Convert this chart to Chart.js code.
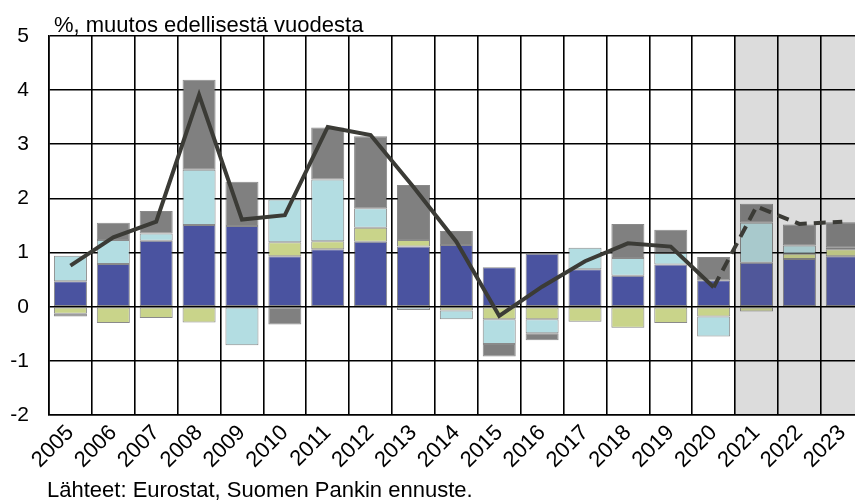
<!DOCTYPE html>
<html>
<head>
<meta charset="utf-8">
<script src="https://cdn.jsdelivr.net/npm/chart.js@4"></script>
<style>
  html, body { margin: 0; padding: 0; background: #fff; overflow: hidden; }
  #wrap { position: relative; width: 866px; height: 500px; }
</style>
</head>
<body>
<div id="wrap"><canvas id="growth"></canvas></div>
<script>
// Data
const years = ['2005', '2006', '2007', '2008', '2009', '2010', '2011', '2012', '2013', '2014',
    '2015', '2016', '2017', '2018', '2019', '2020', '2021', '2022', '2023']
const darkBlue = [0.47, 0.79, 1.22, 1.51, 1.49, 0.93, 1.06, 1.20, 1.11, 1.14,
    0.73, 0.98, 0.69, 0.57, 0.78, 0.49, 0.81, 0.88, 0.93]
const yellowGreen = [-0.13, -0.30, -0.21, -0.29, 0, 0.26, 0.15, 0.26, 0.12, -0.07,
    -0.23, -0.23, -0.28, -0.39, -0.30, -0.18, -0.09, 0.10, 0.13]
const lightBlue = [0.47, 0.44, 0.13, 1.02, -0.71, 0.79, 1.14, 0.36, -0.06, -0.16,
    -0.46, -0.26, 0.40, 0.33, 0.21, -0.37, 0.74, 0.15, 0.04]
const grey = [-0.05, 0.32, 0.42, 1.66, 0.82, -0.33, 0.96, 1.33, 1.02, 0.26,
    -0.23, -0.13, 0, 0.63, 0.43, 0.43, 0.35, 0.39, 0.46]
const total = [0.76, 1.28, 1.57, 3.91, 1.61, 1.69, 3.32, 3.17, 2.21, 1.20,
    -0.17, 0.37, 0.84, 1.17, 1.11, 0.36, 1.85, 1.53, 1.57]
const yTicks = [-2, -1, 0, 1, 2, 3, 4, 5]
const forecastFrom = 16 // 2021 ->

const FONT = '"Liberation Sans", Arial, sans-serif'

// forecast bars look a bit greyed out
const colorSet = (normal, faded) => years.map((y, i) => i >= forecastFrom ? faded : normal)

const barDataset = (label, data, normal, faded) => ({
    type: 'bar',
    label: label,
    data: data,
    backgroundColor: colorSet(normal, faded),
    borderColor: 'rgba(60, 60, 60, 0.6)',
    borderWidth: 1,
    borderSkipped: false,
    stack: 'parts',
    barPercentage: 0.77,
    categoryPercentage: 1,
    order: 2
})

const forecastShade = {
    id: 'forecastShade',
    beforeDraw(chart) {
        const { ctx, chartArea, scales } = chart
        const x0 = scales.x.getPixelForValue(forecastFrom) - scales.x.width / years.length / 2
        ctx.save()
        ctx.fillStyle = '#dcdcdc'
        ctx.fillRect(x0, chartArea.top, chartArea.right - x0, chartArea.bottom - chartArea.top)
        ctx.restore()
    }
}

const texts = {
    id: 'texts',
    afterDraw(chart) {
        const ctx = chart.ctx
        ctx.save()
        ctx.fillStyle = '#000'
        ctx.font = '22px ' + FONT
        ctx.textBaseline = 'alphabetic'
        ctx.fillText('%, muutos edellisestä vuodesta', 54, 32)
        ctx.fillText('Lähteet: Eurostat, Suomen Pankin ennuste.', 47, 497)
        ctx.restore()
    }
}

let canvas = document.querySelector('canvas#growth')
let growthChart = new Chart(canvas, {
    data: {
        labels: years,
        datasets: [
            barDataset('blue', darkBlue, '#4a53a0', '#50579a'),
            barDataset('green', yellowGreen, '#c9d48a', '#bcc484'),
            barDataset('lightblue', lightBlue, '#b3dde2', '#a8c9cc'),
            barDataset('grey', grey, '#808080', '#7a7a7a'),
            {
                type: 'line',
                label: 'total',
                data: total,
                borderColor: '#3b3b36',
                borderWidth: 4,
                pointRadius: 0,
                tension: 0,
                order: 1,
                segment: {
                    borderDash: (c) => c.p0DataIndex >= forecastFrom - 1 ? [12, 7] : undefined
                }
            }
        ]
    },
    options: {
        responsive: true,
        maintainAspectRatio: false,
        animation: false,
        events: [],
        layout: { padding: { top: 36, right: 2, left: 0, bottom: 0 } },
        plugins: {
            legend: { display: false },
            tooltip: { enabled: false }
        },
        scales: {
            x: {
                stacked: true,
                offset: true,
                afterFit: (s) => { s.height = 85 },
                grid: { offset: true, color: '#000', lineWidth: 1.6, drawTicks: false },
                border: { color: '#000', width: 1.6 },
                ticks: {
                    color: '#000',
                    font: { family: FONT, size: 22 },
                    maxRotation: 45,
                    minRotation: 45,
                    padding: 5,
                    autoSkip: false
                }
            },
            y: {
                stacked: true,
                min: -2,
                max: 5,
                afterFit: (s) => { s.width = 49 },
                afterBuildTicks: (s) => { s.ticks = yTicks.map(v => ({ value: v })) },
                grid: { color: '#000', lineWidth: 1.6, drawTicks: false },
                border: { color: '#000', width: 1.6 },
                ticks: {
                    color: '#000',
                    font: { family: FONT, size: 21 },
                    padding: 20
                }
            }
        }
    },
    plugins: [forecastShade, texts]
})
</script>
</body>
</html>
